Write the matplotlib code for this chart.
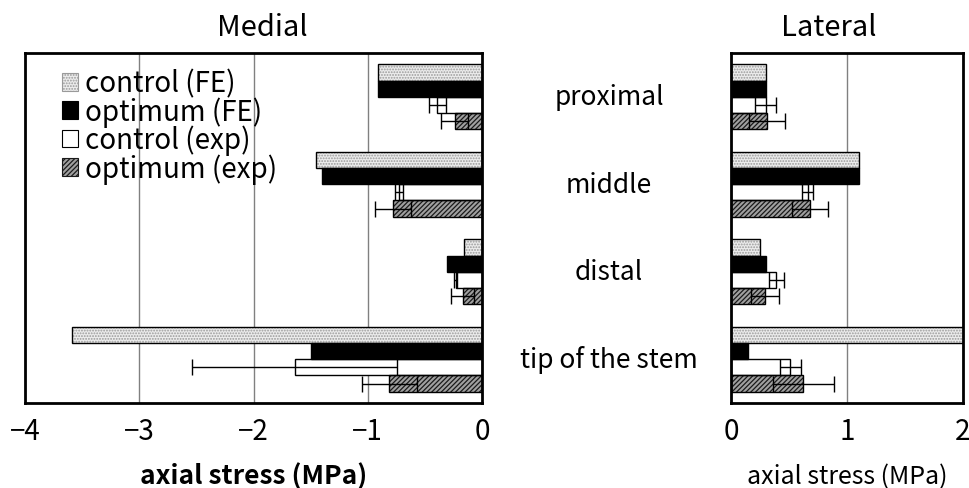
import matplotlib
import matplotlib.pyplot as plt
import numpy as np
from matplotlib.transforms import blended_transform_factory

matplotlib.use("Agg")

plt.rcParams["font.family"] = ["Noto Sans CJK JP", "DejaVu Sans"]
plt.rcParams["hatch.linewidth"] = 0.9

# data (MPa)
categories = ["proximal", "middle", "distal", "tip of the stem"]
series_labels = ["control (FE)", "optimum (FE)", "control (exp)", "optimum (exp)"]

medial_control_fe = [-0.91, -1.45, -0.16, -3.59]
medial_optimum_fe = [-0.91, -1.40, -0.31, -1.50]
medial_control_exp = [-0.39, -0.73, -0.23, -1.64]
medial_control_exp_err = [0.075, 0.035, 0.015, 0.90]
medial_optimum_exp = [-0.24, -0.78, -0.17, -0.81]
medial_optimum_exp_err = [0.12, 0.155, 0.10, 0.24]

lateral_control_fe = [0.30, 1.10, 0.25, 2.10]
lateral_optimum_fe = [0.30, 1.10, 0.30, 0.15]
lateral_control_exp = [0.30, 0.66, 0.39, 0.51]
lateral_control_exp_err = [0.09, 0.05, 0.065, 0.09]
lateral_optimum_exp = [0.31, 0.68, 0.29, 0.625]
lateral_optimum_exp_err = [0.155, 0.155, 0.12, 0.26]

# fill, hatch, hatch colour for each series
styles = [
    ("#ececec", "......", "#9a9a9a"),
    ("black", None, "black"),
    ("white", None, "black"),
    ("#a0a0a0", "///////", "#1a1a1a"),
]

fig = plt.figure(figsize=(9.7, 4.89), dpi=100)
ax1 = fig.add_axes([0.0258, 0.1738, 0.4711, 0.7157])
ax2 = fig.add_axes([0.7536, 0.1738, 0.2392, 0.7157])

y = np.arange(len(categories))
h = 0.185
offsets = [-1.5 * h, -0.5 * h, 0.5 * h, 1.5 * h]


def draw_panel(ax, values, errors):
    for i, vals in enumerate(values):
        face, hatch, hcol = styles[i]
        pos = y + offsets[i]
        # fill + hatch first, then black outline on top
        ax.barh(pos, vals, height=h, color=face, hatch=hatch, edgecolor=hcol,
                linewidth=0, zorder=2)
        ax.barh(pos, vals, height=h, fill=False, edgecolor="black",
                linewidth=1.0, zorder=3)
        if errors[i] is not None:
            ax.errorbar(vals, pos, xerr=errors[i], fmt="none", ecolor="black",
                        elinewidth=1.0, capsize=6, capthick=1.0, zorder=4)
    ax.set_ylim(3.5, -0.5)
    ax.set_yticks([])
    ax.grid(axis="x", color="#808080", linewidth=1.0, zorder=1)
    ax.set_axisbelow(True)
    ax.tick_params(axis="x", length=0, pad=9, labelsize=20)
    for sp in ax.spines.values():
        sp.set_linewidth(2.0)
        sp.set_zorder(5)


draw_panel(ax1,
           [medial_control_fe, medial_optimum_fe, medial_control_exp, medial_optimum_exp],
           [None, None, medial_control_exp_err, medial_optimum_exp_err])
draw_panel(ax2,
           [lateral_control_fe, lateral_optimum_fe, lateral_control_exp, lateral_optimum_exp],
           [None, None, lateral_control_exp_err, lateral_optimum_exp_err])

ax1.set_xlim(-4, 0)
ax1.set_xticks([-4, -3, -2, -1, 0])
ax2.set_xlim(0, 2)
ax2.set_xticks([0, 1, 2])

ax1.set_title("Medial", fontsize=21, pad=13, x=0.52)
ax2.set_title("Lateral", fontsize=21, pad=13, x=0.42)
ax1.set_xlabel("axial stress (MPa)", fontsize=19, fontweight="bold", labelpad=12)
ax2.set_xlabel("axial stress (MPa)", fontsize=18, labelpad=13)

# category names between the two panels
trans = blended_transform_factory(fig.transFigure, ax1.transData)
for yi, name in zip(y, categories):
    fig.text(0.628, yi, name, transform=trans, ha="center", va="center", fontsize=19)

# legend with proxy patches
handles = []
for face, hatch, hcol in styles:
    p = plt.Rectangle((0, 0), 1, 1, facecolor=face, hatch=hatch, edgecolor=hcol)
    handles.append(p)
leg = ax1.legend(handles, series_labels, loc="upper left", bbox_to_anchor=(0.08, 0.955),
                 frameon=False, fontsize=20, handlelength=0.6, handleheight=0.6,
                 handletextpad=0.25, labelspacing=-0.08, borderpad=0, borderaxespad=0)
for p in leg.get_patches():
    p.set_linewidth(0.8)

plt.savefig("out.png", dpi=100)
plt.close()
